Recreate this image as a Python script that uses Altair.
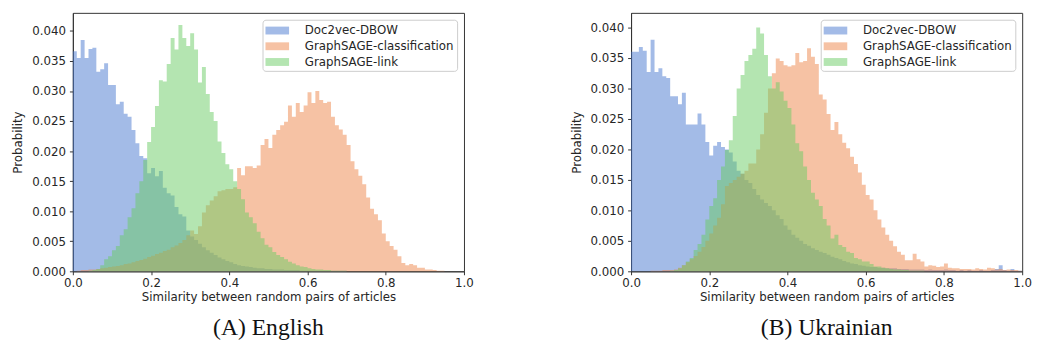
import altair as alt
import pandas as pd

SERIES = ["Doc2vec-DBOW", "GraphSAGE-classification", "GraphSAGE-link"]
COLORS = ["#4878D0", "#EE854A", "#6ACC64"]
X_TICKS = [0.0, 0.2, 0.4, 0.6, 0.8, 1.0]
Y_TICKS = [0.0, 0.005, 0.01, 0.015, 0.02, 0.025, 0.03, 0.035, 0.04]
BIN_EDGES = [round(i * 0.01, 2) for i in range(101)]

# ---------- (A) English ----------
en_doc2vec = [
    .0366, .0355, .0385, .0355, .0370, .0372, .0332, .0336, .0346, .0310,
    .0310, .0278, .0282, .0262, .0257, .0235, .0213, .0192, .0188, .0163,
    .0172, .0158, .0167, .0139, .0130, .0126, .0107, .0095, .0091, .0068,
    .0058, .0052, .0046, .0040, .0035, .0031, .0027, .0023, .0020, .0017,
    .0015, .0012, .0010, .0009, .0008, .0007, .0006, .0005, .0005, .0004,
    .0004, .0003, .0003, .0003, .0002, .0002, .0002, .0002, .0001, .0001,
    .0001, .0001, .0001, .0001, .0001, .0001, .0001, .0001, .0001, .0001,
    0, 0, 0, 0, 0, 0, 0, 0, 0, 0,
    0, 0, 0, 0, 0, 0, 0, 0, 0, 0,
    0, 0, 0, 0, 0, 0, 0, 0, 0, 0,
]
en_sage_cls = [
    0, .0001, .0002, .0002, .0003, .0003, .0004, .0005, .0006, .0007,
    .0008, .0009, .0010, .0012, .0013, .0015, .0017, .0019, .0021, .0024,
    .0026, .0029, .0031, .0034, .0036, .0040, .0043, .0047, .0052, .0060,
    .0068, .0062, .0075, .0098, .0110, .0118, .0125, .0133, .0135, .0137,
    .0137, .0140, .0172, .0160, .0175, .0175, .0172, .0176, .0210, .0220,
    .0205, .0227, .0235, .0243, .0249, .0276, .0257, .0280, .0265, .0276,
    .0298, .0280, .0300, .0285, .0280, .0282, .0257, .0243, .0236, .0227,
    .0210, .0183, .0170, .0159, .0145, .0123, .0104, .0095, .0085, .0063,
    .0050, .0042, .0036, .0025, .0014, .0010, .0012, .0010, .0006, .0006,
    .0003, .0003, .0002, .0001, .0001, 0, 0, 0, 0, 0,
]
en_sage_link = [
    0, 0, 0, 0, .0001, .0002, .0004, .0010, .0020, .0025,
    .0035, .0042, .0060, .0070, .0090, .0105, .0130, .0150, .0185, .0215,
    .0240, .0275, .0318, .0316, .0345, .0388, .0369, .0410, .0388, .0375,
    .0396, .0369, .0314, .0340, .0295, .0265, .0250, .0216, .0197, .0178,
    .0170, .0150, .0137, .0120, .0098, .0090, .0080, .0066, .0055, .0044,
    .0040, .0032, .0027, .0024, .0020, .0016, .0013, .0010, .0008, .0007,
    .0005, .0004, .0003, .0003, .0002, .0002, .0001, .0001, .0001, .0001,
    0, 0, 0, 0, 0, 0, 0, 0, 0, 0,
    0, 0, 0, 0, 0, 0, 0, 0, 0, 0,
    0, 0, 0, 0, 0, 0, 0, 0, 0, 0,
]

# ---------- (B) Ukrainian ----------
uk_doc2vec = [
    .0360, .0360, .0368, .0362, .0327, .0380, .0327, .0333, .0320, .0317,
    .0287, .0287, .0274, .0293, .0241, .0241, .0241, .0259, .0241, .0212,
    .0190, .0206, .0212, .0204, .0200, .0195, .0180, .0165, .0160, .0150,
    .0145, .0135, .0125, .0118, .0112, .0107, .0100, .0092, .0086, .0075,
    .0068, .0060, .0055, .0050, .0045, .0042, .0038, .0035, .0032, .0030,
    .0027, .0024, .0022, .0020, .0017, .0015, .0013, .0012, .0010, .0009,
    .0008, .0007, .0007, .0006, .0006, .0005, .0005, .0005, .0004, .0004,
    .0004, .0003, .0003, .0003, .0003, .0002, .0003, .0002, .0002, .0002,
    .0003, .0002, .0002, .0001, .0002, .0001, .0002, .0001, .0001, .0002,
    .0001, .0001, .0002, .0004, .0010, .0002, .0001, .0004, .0001, .0001,
]
uk_sage_cls = [
    0, 0, 0, 0, 0, .0001, .0001, .0001, .0002, .0002,
    .0002, .0003, .0006, .0010, .0015, .0020, .0025, .0032, .0040, .0050,
    .0062, .0075, .0088, .0110, .0140, .0145, .0150, .0155, .0160, .0165,
    .0177, .0177, .0200, .0225, .0260, .0300, .0325, .0349, .0345, .0338,
    .0336, .0338, .0358, .0343, .0345, .0366, .0352, .0340, .0290, .0282,
    .0258, .0232, .0245, .0225, .0211, .0202, .0188, .0176, .0162, .0142,
    .0125, .0118, .0100, .0085, .0072, .0060, .0050, .0041, .0032, .0027,
    .0018, .0018, .0029, .0020, .0016, .0008, .0010, .0009, .0007, .0008,
    .0013, .0006, .0005, .0005, .0004, .0004, .0004, .0003, .0005, .0004,
    .0003, .0006, .0005, .0003, .0004, .0002, .0003, .0002, .0002, .0001,
]
uk_sage_link = [
    0, 0, 0, 0, 0, 0, 0, 0, 0, 0,
    .0001, .0002, .0005, .0010, .0016, .0022, .0035, .0045, .0060, .0085,
    .0107, .0120, .0150, .0172, .0199, .0215, .0255, .0300, .0322, .0345,
    .0355, .0365, .0400, .0390, .0355, .0320, .0300, .0310, .0295, .0280,
    .0268, .0241, .0210, .0197, .0172, .0150, .0129, .0118, .0107, .0086,
    .0075, .0054, .0060, .0043, .0040, .0032, .0030, .0022, .0020, .0016,
    .0016, .0012, .0008, .0008, .0006, .0005, .0004, .0003, .0003, .0002,
    .0002, .0001, .0001, .0001, .0001, 0, 0, 0, 0, 0,
    0, 0, 0, 0, 0, 0, 0, 0, 0, 0,
    0, 0, 0, 0, 0, 0, 0, 0, 0, 0,
]

PANELS = {
    "en": dict(values=[en_doc2vec, en_sage_cls, en_sage_link], caption="(A) English", ymax=0.043),
    "uk": dict(values=[uk_doc2vec, uk_sage_cls, uk_sage_link], caption="(B) Ukrainian", ymax=0.0424),
}


def make_frame(series_values):
    rows = []
    for name, vals in zip(SERIES, series_values):
        # step-after area: one point per left bin edge, plus the closing right edge
        for edge, v in zip(BIN_EDGES[:-1], vals):
            rows.append({"series": name, "x": edge, "p": v})
        rows.append({"series": name, "x": BIN_EDGES[-1], "p": vals[-1]})
    return pd.DataFrame(rows)


RECT_PATH = "M-1.5,-0.5H1.5V0.5H-1.5Z"


def panel(key):
    cfg = PANELS[key]
    df = make_frame(cfg["values"])
    return (
        alt.Chart(df)
        .mark_area(interpolate="step-after", opacity=0.5, strokeWidth=0)
        .encode(
            x=alt.X(
                "x:Q",
                scale=alt.Scale(domain=[0, 1], nice=False, zero=False),
                axis=alt.Axis(values=X_TICKS, format=".1f", labelFlush=False,
                              title="Similarity between random pairs of articles"),
            ),
            y=alt.Y(
                "p:Q",
                stack=None,
                scale=alt.Scale(domain=[0, cfg["ymax"]], nice=False),
                axis=alt.Axis(values=Y_TICKS, format=".3f", title="Probability"),
            ),
            color=alt.Color(
                "series:N",
                scale=alt.Scale(domain=SERIES, range=COLORS),
                legend=alt.Legend(
                    title=None,
                    orient="top-right",
                    offset=7,
                    fillColor="white",
                    strokeColor="#cccccc",
                    cornerRadius=3,
                    padding=3,
                    rowPadding=2,
                    labelFont="DejaVu Sans",
                    labelFontSize=12,
                    labelColor="#262626",
                    labelLimit=260,
                    labelOffset=20,
                    symbolType=RECT_PATH,
                    symbolSize=256,
                    symbolOffset=4,
                    symbolOpacity=0.5,
                    symbolStrokeWidth=0,
                ),
            ),
        )
        .properties(
            width=398,
            height=263,
            title=alt.TitleParams(
                cfg["caption"],
                orient="bottom",
                anchor="middle",
                font="Liberation Serif",
                fontSize=24,
                fontWeight="normal",
                color="#111111",
                offset=14,
            ),
        )
    )


chart = (
    alt.hconcat(panel("en"), panel("uk"), spacing=96)
    .resolve_scale(color="independent", y="independent")
    .resolve_legend(color="independent")
    .properties(padding={"left": 3, "top": 1, "right": 0, "bottom": 0})
    .configure_view(stroke="#333333", strokeWidth=1)
    .configure_axis(
        grid=False,
        domainColor="#333333",
        tickColor="#333333",
        tickSize=3.5,
        labelFont="DejaVu Sans",
        labelFontSize=12,
        labelColor="#262626",
        labelPadding=3,
        titleFont="DejaVu Sans",
        titleFontSize=12,
        titleFontWeight="normal",
        titleColor="#262626",
    )
    .configure_axisY(titlePadding=7, labelPadding=4)
    .configure_axisX(titlePadding=3)
)

chart.save("out.html", embed_options={"renderer": "svg", "actions": False})
